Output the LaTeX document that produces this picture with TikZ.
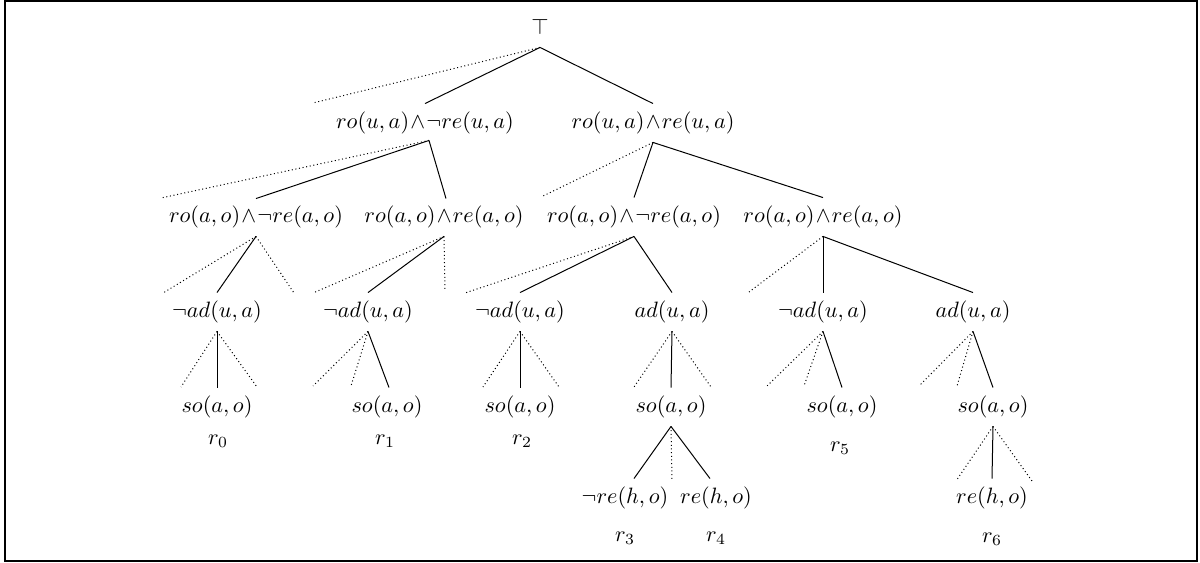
\documentclass[tikz,border=0pt]{standalone}
\usetikzlibrary{calc}
\newcommand{\wdg}{\mskip1mu{\wedge}\mskip1mu}
\begin{document}
\begin{tikzpicture}[x=0.45pt,y=-0.45pt,
  lbl/.style={inner xsep=1pt, inner ysep=3.55pt, text height=7.5pt, text depth=2.5pt},
  edge/.style={line width=0.45pt},
  oth/.style={line width=0.45pt, dash pattern=on 0.45pt off 1.2pt},
  rl/.style={inner sep=0pt}]
\useasboundingbox (0,0) rectangle (1200,563);
\draw[line width=0.9pt] (5,1) rectangle (1197,561);
% nodes
\node[lbl] (root) at (540,29) {$\top$};
\node[lbl] (A) at (425,123) {$ro(u,a)\wdg\neg re(u,a)$};
\node[lbl] (B) at (653,123) {$ro(u,a)\wdg re(u,a)$};
\node[lbl] (C) at (256,217) {$ro(a,o)\wdg\neg re(a,o)$};
\node[lbl] (D) at (444,217) {$ro(a,o)\wdg re(a,o)$};
\node[lbl] (E) at (634,217) {$ro(a,o)\wdg\neg re(a,o)$};
\node[lbl] (F) at (823,217) {$ro(a,o)\wdg re(a,o)$};
\node[lbl] (G) at (217,312) {$\neg ad(u,a)$};
\node[lbl] (H) at (368,312) {$\neg ad(u,a)$};
\node[lbl] (I) at (520,312) {$\neg ad(u,a)$};
\node[lbl] (J) at (672,312) {$ad(u,a)$};
\node[lbl] (K) at (823,312) {$\neg ad(u,a)$};
\node[lbl] (L) at (973,312) {$ad(u,a)$};
\node[lbl] (S0) at (217,407) {$so(a,o)$};
\node[lbl] (S1) at (387,407) {$so(a,o)$};
\node[lbl] (S2) at (520,407) {$so(a,o)$};
\node[lbl] (S3) at (671,407) {$so(a,o)$};
\node[lbl] (S5) at (842,407) {$so(a,o)$};
\node[lbl] (S6) at (993,407) {$so(a,o)$};
\node[lbl] (N3) at (625,498) {$\neg re(h,o)$};
\node[lbl] (N4) at (716,498) {$re(h,o)$};
\node[lbl] (N6) at (992,498) {$re(h,o)$};
\node[rl] (r0) at (218,441) {$r_0$};
\node[rl] (r1) at (385,441) {$r_1$};
\node[rl] (r2) at (522,441) {$r_2$};
\node[rl] (r3) at (625,538) {$r_3$};
\node[rl] (r4) at (716,538) {$r_4$};
\node[rl] (r5) at (840,448) {$r_5$};
\node[rl] (r6) at (992,539) {$r_6$};
% free ends of dotted branches
\coordinate (d0) at (313,103);
\coordinate (dA) at (161,198);
\coordinate (dB) at (541,197);
\coordinate (dC1) at (163,293);
\coordinate (dC2) at (294,293);
\coordinate (dD1) at (313,293);
\coordinate (dD2) at (445,290);
\coordinate (dE) at (465,293);
\coordinate (dF) at (749,292);
\coordinate (dG1) at (181,387);
\coordinate (dG2) at (257,387);
\coordinate (dH1) at (313,386);
\coordinate (dH2) at (351,386);
\coordinate (dI1) at (483,387);
\coordinate (dI2) at (559,387);
\coordinate (dJ1) at (634,387);
\coordinate (dJ2) at (711,387);
\coordinate (dK1) at (767,386);
\coordinate (dK2) at (804,386);
\coordinate (dL1) at (919,386);
\coordinate (dL2) at (957,386);
\coordinate (dS3) at (672,480);
\coordinate (dS61) at (956,481);
\coordinate (dS62) at (1032,481);
% connectors
\draw[oth] ($(root.south)+(0,-1)$) -- (d0);
\draw[edge] ($(root.south)+(0,-1)$) -- (A.north);
\draw[edge] ($(root.south)+(0,-1)$) -- (B.north);
\draw[oth] ($(A.south)+(4,-2)$) -- (dA);
\draw[edge] ($(A.south)+(4,-2)$) -- ($(C.north)+(0,1)$);
\draw[edge] ($(A.south)+(4,-2)$) -- ($(D.north)+(2,1)$);
\draw[oth] (B.south) -- (dB);
\draw[edge] (B.south) -- (E.north);
\draw[edge] (B.south) -- (F.north);
\draw[oth] (C.south) -- (dC1);
\draw[edge] (C.south) -- (G.north);
\draw[oth] (C.south) -- (dC2);
\draw[oth] (D.south) -- (dD1);
\draw[edge] (D.south) -- (H.north);
\draw[oth] (D.south) -- (dD2);
\draw[oth] (E.south) -- (dE);
\draw[edge] (E.south) -- (I.north);
\draw[edge] (E.south) -- (J.north);
\draw[oth] (F.south) -- (dF);
\draw[edge] (F.south) -- (K.north);
\draw[edge] (F.south) -- (L.north);
\draw[oth] (G.south) -- (dG1);
\draw[edge] (G.south) -- (S0.north);
\draw[oth] (G.south) -- (dG2);
\draw[oth] (H.south) -- (dH1);
\draw[oth] (H.south) -- (dH2);
\draw[edge] (H.south) -- ($(S1.north)+(2,0)$);
\draw[oth] (I.south) -- (dI1);
\draw[edge] (I.south) -- (S2.north);
\draw[oth] (I.south) -- (dI2);
\draw[oth] (J.south) -- (dJ1);
\draw[edge] (J.south) -- (S3.north);
\draw[oth] (J.south) -- (dJ2);
\draw[oth] (K.south) -- (dK1);
\draw[oth] (K.south) -- (dK2);
\draw[edge] (K.south) -- (S5.north);
\draw[oth] (L.south) -- (dL1);
\draw[oth] (L.south) -- (dL2);
\draw[edge] (L.south) -- (S6.north);
\draw[edge] (S3.south) -- ($(N3.north)+(9,0)$);
\draw[oth] (S3.south) -- (dS3);
\draw[edge] (S3.south) -- ($(N4.north)+(-6,0)$);
\draw[oth] (S6.south) -- (dS61);
\draw[edge] (S6.south) -- (N6.north);
\draw[oth] (S6.south) -- (dS62);
\end{tikzpicture}
\end{document}
